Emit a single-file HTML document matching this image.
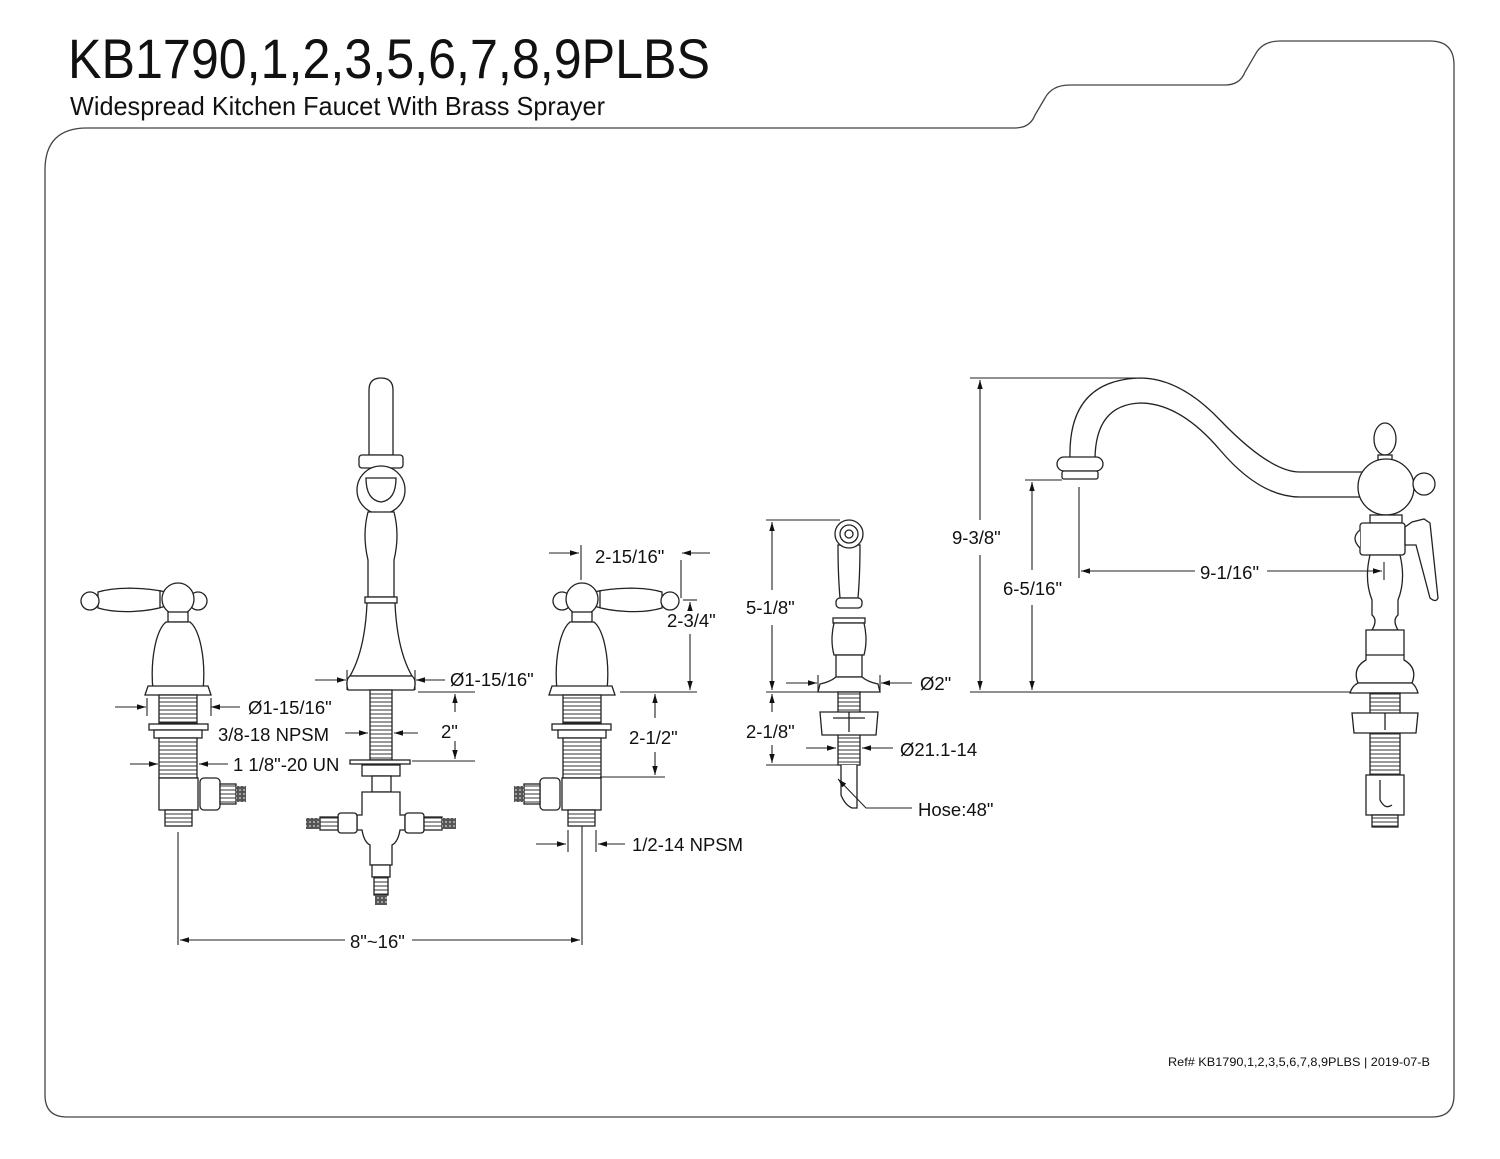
<!DOCTYPE html>
<html><head><meta charset="utf-8"><style>
html,body{margin:0;padding:0;background:#fff;}
svg{display:block;}
text{font-family:"Liberation Sans",sans-serif;fill:#111;}
</style></head><body>
<svg width="1500" height="1159" viewBox="0 0 1500 1159" xmlns="http://www.w3.org/2000/svg">
<defs>
<marker id="ar" viewBox="0 0 10 10" refX="10" refY="5" markerWidth="9" markerHeight="9" markerUnits="userSpaceOnUse" orient="auto-start-reverse"><path d="M0,2 L10,5 L0,8 z" fill="#111"/></marker>
<pattern id="thr" width="6" height="4" patternUnits="userSpaceOnUse"><rect width="6" height="4" fill="#fff"/><line x1="0" y1="2" x2="6" y2="2" stroke="#333" stroke-width="1"/></pattern>
<pattern id="hose" width="4" height="4" patternUnits="userSpaceOnUse"><rect width="4" height="4" fill="#555"/><circle cx="2" cy="2" r="1" fill="#bbb"/></pattern>
<g id="valve" fill="#fff" stroke="#222" stroke-width="1.3">
  <path d="M12,592 C30,588 60,586 80,592 L80,608 C60,614 30,612 12,606 z"/>
  <line x1="18" y1="590" x2="18" y2="608"/>
  <circle cx="88" cy="601" r="9"/>
  <circle cx="-20" cy="601" r="9"/>
  <circle cx="0" cy="599" r="16"/>
  <rect x="-10" y="612" width="20" height="10"/>
  <path d="M-25,690 C-28,660 -22,630 -12,622 L12,622 C22,630 28,660 25,690 z"/>
  <path d="M-33,695 L-30,686 L30,686 L33,695 Z"/>
  <rect x="-19" y="695" width="38" height="28" fill="url(#thr)"/>
  <rect x="-30" y="724" width="59" height="6"/>
  <rect x="-24" y="730" width="48" height="8"/>
  <rect x="-19" y="738" width="38" height="40" fill="url(#thr)"/>
  <rect x="-20" y="778" width="39" height="32"/>
  <rect x="-14" y="810" width="27" height="16" fill="url(#thr)"/>
  <rect x="-42" y="778" width="20" height="32" rx="4"/>
  <rect x="-58" y="784" width="16" height="20" fill="url(#thr)"/>
  <rect x="-68" y="786" width="10" height="16" fill="url(#hose)" stroke="none"/>
</g>
</defs>

<path d="M45,1095 L45,170 Q45,128 87,128 L1015,128 Q1030,128 1035,115 L1045,98 Q1052,85 1070,85 L1225,85 Q1240,85 1245,72 L1255,55 Q1262,41 1280,41 L1430,41 Q1454,41 1454,65 L1454,1095 Q1454,1117 1432,1117 L67,1117 Q45,1117 45,1095 Z" fill="none" stroke="#444" stroke-width="1.3"/>

<text x="68" y="78" font-size="56" textLength="642" lengthAdjust="spacingAndGlyphs">KB1790,1,2,3,5,6,7,8,9PLBS</text>
<text x="70" y="115" font-size="26" textLength="535" lengthAdjust="spacingAndGlyphs">Widespread Kitchen Faucet With Brass Sprayer</text>

<use href="#valve" transform="translate(582,0)"/>
<use href="#valve" transform="translate(178,0) scale(-1,1)"/>

<g fill="#fff" stroke="#222" stroke-width="1.3">
  <path d="M369,455 L369,390 Q369,378 381,378 Q393,378 393,390 L393,455 z"/>
  <rect x="359" y="455" width="44" height="13" rx="3"/>
  <circle cx="381" cy="490" r="24"/>
  <path d="M366,478 L396,478 Q396,500 381,502 Q366,500 366,478 z"/>
  <path d="M368,512 Q362,535 368,560 L368,597 L394,597 L394,560 Q400,535 394,512 z"/>
  <rect x="365" y="597" width="32" height="6"/>
  <path d="M367,603 Q365,650 350,676 L412,676 Q397,650 395,603 z"/>
  <path d="M350,676 Q345,680 348,690 L414,690 Q417,680 412,676 z"/>
  <rect x="370" y="690" width="22" height="70" fill="url(#thr)"/>
  <rect x="350" y="760" width="60" height="4"/>
  <rect x="362" y="765" width="38" height="11"/>
  <rect x="372" y="776" width="19" height="16"/>
  <path d="M362,792 L400,792 L400,815 L405,815 L405,830 L400,830 Q398,842 392,845 L392,865 L370,865 L370,845 Q364,842 362,830 L357,830 L357,815 L362,815 z"/>
  <rect x="338" y="813" width="19" height="20" rx="3"/>
  <rect x="405" y="813" width="19" height="20" rx="3"/>
  <rect x="320" y="817" width="18" height="13" fill="url(#thr)"/>
  <rect x="424" y="817" width="18" height="13" fill="url(#thr)"/>
  <rect x="306" y="818" width="14" height="11" fill="url(#hose)" stroke="none"/>
  <rect x="442" y="818" width="14" height="11" fill="url(#hose)" stroke="none"/>
  <rect x="372" y="865" width="18" height="12"/>
  <rect x="374" y="877" width="14" height="18" fill="url(#thr)"/>
  <rect x="375" y="895" width="12" height="10" fill="url(#hose)" stroke="none"/>
</g>

<g fill="#fff" stroke="#222" stroke-width="1.3">
  <path d="M838,545 Q838,575 840,598 L858,598 Q860,575 860,545 z"/>
  <circle cx="849" cy="534" r="14"/>
  <circle cx="849" cy="534" r="9"/>
  <circle cx="849" cy="534" r="4"/>
  <rect x="836" y="598" width="26" height="10" rx="4"/>
  <rect x="833" y="618" width="32" height="5"/>
  <path d="M834,623 Q830,640 834,655 L864,655 Q868,640 864,623 z"/>
  <rect x="836" y="655" width="26" height="22"/>
  <path d="M836,677 Q830,682 820,684 L818,692 L880,692 L878,684 Q868,682 862,677 z"/>
  <rect x="838" y="692" width="22" height="73" fill="url(#thr)"/>
  <path d="M820,712 L878,712 L876,735 L822,735 z"/>
  <line x1="833" y1="718" x2="865" y2="718"/>
  <line x1="849" y1="712" x2="849" y2="732"/>
  <path d="M841,765 L841,795 Q845,805 852,808 L857,808 L857,765"/>
</g>

<g fill="#fff" stroke="#222" stroke-width="1.3">
  <path d="M1070,458 Q1068,380 1140,378 Q1180,378 1220,420 Q1270,472 1300,472 L1365,472 L1365,497 L1300,497 Q1260,497 1220,450 Q1180,403 1140,403 Q1095,405 1095,460 z" />
  <rect x="1057" y="457" width="46" height="14" rx="7"/>
  <rect x="1062" y="471" width="36" height="8" rx="2"/>
  <ellipse cx="1385" cy="439" rx="11" ry="16"/>
  <rect x="1378" y="455" width="14" height="5"/>
  <circle cx="1386" cy="487" r="28"/>
  <circle cx="1424" cy="484" r="11"/>
  <rect x="1370" y="515" width="32" height="8"/>
  <rect x="1360" y="523" width="45" height="32" rx="3"/>
  <path d="M1360,530 Q1350,538 1360,548"/>
  <path d="M1405,527 L1412,522 L1424,519 L1430,523 L1438,598 Q1436,603 1430,598 L1416,545 L1405,545 z"/>
  <path d="M1370,555 Q1364,580 1372,600 L1372,615 Q1378,620 1372,630 L1398,630 Q1392,620 1398,615 L1398,600 Q1406,580 1400,555 z"/>
  <path d="M1366,630 L1404,630 L1404,660 Q1418,668 1412,683 L1358,683 Q1352,668 1366,660 z"/>
  <line x1="1366" y1="655" x2="1404" y2="655"/>
  <path d="M1358,683 Q1352,686 1350,693 L1418,693 Q1416,686 1412,683 z"/>
  <rect x="1370" y="693" width="30" height="100" fill="url(#thr)"/>
  <path d="M1352,713 L1418,713 L1416,733 L1354,733 z"/>
  <line x1="1385" y1="713" x2="1385" y2="730"/>
  <rect x="1366" y="775" width="38" height="40"/>
  <path d="M1380,780 L1380,800 Q1385,810 1392,805"/>
  <rect x="1372" y="815" width="26" height="12" fill="url(#thr)"/>
</g>

<g stroke="#222" stroke-width="1.1" fill="none">
  <line x1="115" y1="707" x2="146" y2="707" marker-end="url(#ar)"/>
  <line x1="240" y1="707" x2="211" y2="707" marker-end="url(#ar)"/>
  <line x1="147" y1="698" x2="147" y2="716"/><line x1="211" y1="698" x2="211" y2="716"/>
  <line x1="130" y1="764" x2="158" y2="764" marker-end="url(#ar)"/>
  <line x1="228" y1="764" x2="199" y2="764" marker-end="url(#ar)"/>
  <line x1="178" y1="832" x2="178" y2="945"/>
  <line x1="315" y1="680" x2="346" y2="680" marker-end="url(#ar)"/>
  <line x1="445" y1="680" x2="416" y2="680" marker-end="url(#ar)"/>
  <line x1="347" y1="670" x2="347" y2="690"/><line x1="415" y1="670" x2="415" y2="690"/>
  <line x1="345" y1="733" x2="368" y2="733" marker-end="url(#ar)"/>
  <line x1="418" y1="733" x2="394" y2="733" marker-end="url(#ar)"/>
  <line x1="418" y1="692" x2="475" y2="692"/>
  <line x1="412" y1="761" x2="475" y2="761"/>
  <line x1="455" y1="712" x2="455" y2="694" marker-end="url(#ar)"/>
  <line x1="455" y1="741" x2="455" y2="759" marker-end="url(#ar)"/>
  <line x1="549" y1="553" x2="579" y2="553" marker-end="url(#ar)"/>
  <line x1="710" y1="553" x2="682" y2="553" marker-end="url(#ar)"/>
  <line x1="581" y1="545" x2="581" y2="580"/>
  <line x1="681" y1="560" x2="681" y2="598"/>
  <line x1="683" y1="600" x2="697" y2="600"/>
  <line x1="620" y1="692" x2="697" y2="692"/>
  <line x1="690" y1="608" x2="690" y2="602" marker-end="url(#ar)"/>
  <line x1="690" y1="634" x2="690" y2="690" marker-end="url(#ar)"/>
  <line x1="600" y1="777" x2="665" y2="777"/>
  <line x1="655" y1="718" x2="655" y2="694" marker-end="url(#ar)"/>
  <line x1="655" y1="752" x2="655" y2="775" marker-end="url(#ar)"/>
  <line x1="568" y1="830" x2="568" y2="852"/><line x1="596" y1="830" x2="596" y2="852"/>
  <line x1="536" y1="844" x2="566" y2="844" marker-end="url(#ar)"/>
  <line x1="625" y1="844" x2="598" y2="844" marker-end="url(#ar)"/>
  <line x1="582" y1="826" x2="582" y2="945"/>
  <line x1="345" y1="940" x2="180" y2="940" marker-end="url(#ar)"/>
  <line x1="412" y1="940" x2="580" y2="940" marker-end="url(#ar)"/>
  <line x1="766" y1="520" x2="840" y2="520"/>
  <line x1="766" y1="692" x2="820" y2="692"/>
  <line x1="766" y1="765" x2="838" y2="765"/>
  <line x1="772" y1="590" x2="772" y2="522" marker-end="url(#ar)"/>
  <line x1="772" y1="625" x2="772" y2="690" marker-end="url(#ar)"/>
  <line x1="772" y1="712" x2="772" y2="694" marker-end="url(#ar)"/>
  <line x1="772" y1="745" x2="772" y2="763" marker-end="url(#ar)"/>
  <line x1="786" y1="683" x2="817" y2="683" marker-end="url(#ar)"/>
  <line x1="912" y1="683" x2="881" y2="683" marker-end="url(#ar)"/>
  <line x1="818" y1="675" x2="818" y2="692"/><line x1="880" y1="675" x2="880" y2="692"/>
  <line x1="806" y1="748" x2="836" y2="748" marker-end="url(#ar)"/>
  <line x1="893" y1="748" x2="862" y2="748" marker-end="url(#ar)"/>
  <polyline points="912,808 866,808 838,779" marker-end="url(#ar)"/>
  <line x1="970" y1="378" x2="1140" y2="378"/>
  <line x1="970" y1="692" x2="1350" y2="692"/>
  <line x1="980" y1="520" x2="980" y2="380" marker-end="url(#ar)"/>
  <line x1="980" y1="555" x2="980" y2="690" marker-end="url(#ar)"/>
  <line x1="1025" y1="480" x2="1062" y2="480"/>
  <line x1="1032" y1="570" x2="1032" y2="482" marker-end="url(#ar)"/>
  <line x1="1032" y1="605" x2="1032" y2="690" marker-end="url(#ar)"/>
  <line x1="1079" y1="487" x2="1079" y2="578"/>
  <line x1="1195" y1="571" x2="1081" y2="571" marker-end="url(#ar)"/>
  <line x1="1267" y1="571" x2="1382" y2="571" marker-end="url(#ar)"/>
  <line x1="1384" y1="562" x2="1384" y2="580"/>
</g>

<g font-size="18.5">
  <text x="248" y="714">Ø1-15/16"</text>
  <text x="218" y="741">3/8-18 NPSM</text>
  <text x="233" y="771">1 1/8"-20 UN</text>
  <text x="450" y="686">Ø1-15/16"</text>
  <text x="441" y="738">2"</text>
  <text x="595" y="563">2-15/16"</text>
  <text x="667" y="627">2-3/4"</text>
  <text x="629" y="744">2-1/2"</text>
  <text x="632" y="851">1/2-14 NPSM</text>
  <text x="350" y="948">8"~16"</text>
  <text x="746" y="614">5-1/8"</text>
  <text x="746" y="738">2-1/8"</text>
  <text x="920" y="690">Ø2"</text>
  <text x="900" y="756">Ø21.1-14</text>
  <text x="918" y="816">Hose:48"</text>
  <text x="952" y="544">9-3/8"</text>
  <text x="1003" y="595">6-5/16"</text>
  <text x="1200" y="579">9-1/16"</text>
</g>
<text x="1168" y="1066" font-size="12" textLength="262" lengthAdjust="spacingAndGlyphs">Ref# KB1790,1,2,3,5,6,7,8,9PLBS | 2019-07-B</text>
</svg>
</body></html>
